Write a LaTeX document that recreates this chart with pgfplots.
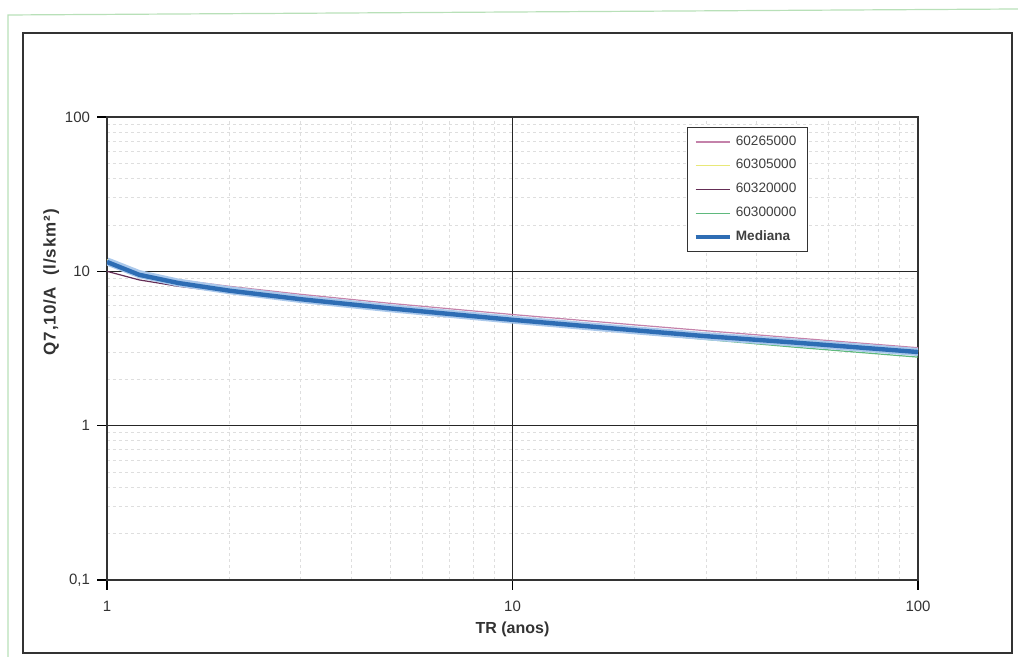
\documentclass[border=0pt]{standalone}
\usepackage{pgfplots}
\pgfplotsset{compat=1.18}
\usepackage{fontspec}
\setmainfont{Liberation Sans}
\definecolor{cpink}{RGB}{196,130,170}
\definecolor{cyel}{RGB}{232,232,120}
\definecolor{cpurp}{RGB}{100,45,85}
\definecolor{cgreen}{RGB}{95,185,125}
\definecolor{cmed}{RGB}{46,109,180}
\definecolor{chalo}{RGB}{170,200,235}
\begin{document}
\begin{tikzpicture}
\path[use as bounding box] (0,0) rectangle (509pt,328.5pt);
\draw[green!40!gray!40, line width=0.6pt] (4pt,0) -- (4pt,321pt) -- (509pt,324pt);
\draw[black!80, line width=0.8pt] (11.5pt,2pt) rectangle (506pt,312pt);
\begin{axis}[
  at={(53.5pt,38.5pt)}, anchor=south west,
  scale only axis, width=405.5pt, height=231.5pt,
  xmode=log, ymode=log,
  xmin=1, xmax=100, ymin=0.1, ymax=100,
  xtick={1,10,100}, xticklabels={1,10,100},
  ytick={0.1,1,10,100}, yticklabels={{0,1},1,10,100},
  minor xtick={2,3,4,5,6,7,8,9,20,30,40,50,60,70,80,90},
  minor ytick={0.2,0.3,0.4,0.5,0.6,0.7,0.8,0.9,2,3,4,5,6,7,8,9,20,30,40,50,60,70,80,90},
  tick align=outside, major tick length=5pt, minor tick length=0pt,
  xtick pos=bottom, ytick pos=left,
  grid=both,
  major grid style={black!85, line width=0.7pt},
  minor grid style={black!13, dash pattern=on 1.5pt off 1.5pt, line width=0.35pt},
  axis line style={black!80, line width=0.7pt},
  tick style={black, line width=0.6pt},
  ticklabel style={font=\fontsize{7.5}{9}\selectfont, text=black!80},
  xticklabel style={yshift=-2pt},
  xlabel={\textbf{TR (anos)}},
  xlabel style={font=\fontsize{8}{10}\selectfont, text=black!80, yshift=2pt},
  ylabel={\addfontfeature{LetterSpace=5}\textbf{Q7,10/A\ \ (l/skm²)}},
  ylabel style={font=\fontsize{8.5}{10}\selectfont, text=black!80, at={(ticklabel cs:0.644)}, yshift=-4pt},
  legend style={at={(0.715,0.978)}, anchor=north west, draw=black!80, line width=0.6pt,
    fill=white, font=\fontsize{6.8}{8}\selectfont, text=black!75,
    row sep=1.6pt, inner xsep=3pt, inner ysep=2pt, text width=31pt},
  legend cell align=left,
  legend image code/.code={\draw[#1] (0pt,0pt) -- (17pt,0pt);},
]
\addplot[cpink, line width=0.6pt] coordinates {(1,11.2)(1.2,9.7)(1.5,8.8)(2,8.0)(3,7.1)(5,6.2)(10,5.25)(20,4.5)(30,4.12)(50,3.7)(100,3.2)};
\addlegendentry{60265000}
\addplot[cyel, line width=0.6pt] coordinates {(1,11.9)(1.2,9.9)(1.5,8.6)(2,7.7)(3,6.8)(5,5.9)(10,4.98)(20,4.25)(30,3.9)(50,3.55)(100,3.1)};
\addlegendentry{60305000}
\addplot[cpurp, line width=0.6pt] coordinates {(1,10.0)(1.2,8.8)(1.5,8.0)(2,7.3)(3,6.5)(5,5.7)(10,4.9)(20,4.25)(30,3.95)(50,3.55)(100,3.12)};
\addlegendentry{60320000}
\addplot[cgreen, line width=0.6pt] coordinates {(1,11.4)(1.2,9.4)(1.5,8.3)(2,7.4)(3,6.5)(5,5.65)(10,4.72)(20,3.98)(30,3.62)(50,3.22)(100,2.78)};
\addlegendentry{60300000}
\addplot[chalo, line width=4pt, forget plot] coordinates {(1,11.6)(1.2,9.6)(1.5,8.45)(2,7.55)(3,6.62)(5,5.76)(10,4.86)(20,4.15)(30,3.8)(50,3.45)(100,3.0)};
\addplot[cmed, line width=2.2pt] coordinates {(1,11.5)(1.2,9.5)(1.5,8.4)(2,7.5)(3,6.6)(5,5.75)(10,4.85)(20,4.15)(30,3.8)(50,3.45)(100,3.0)};
\addlegendentry{\textbf{Mediana}}
\end{axis}
\end{tikzpicture}
\end{document}
